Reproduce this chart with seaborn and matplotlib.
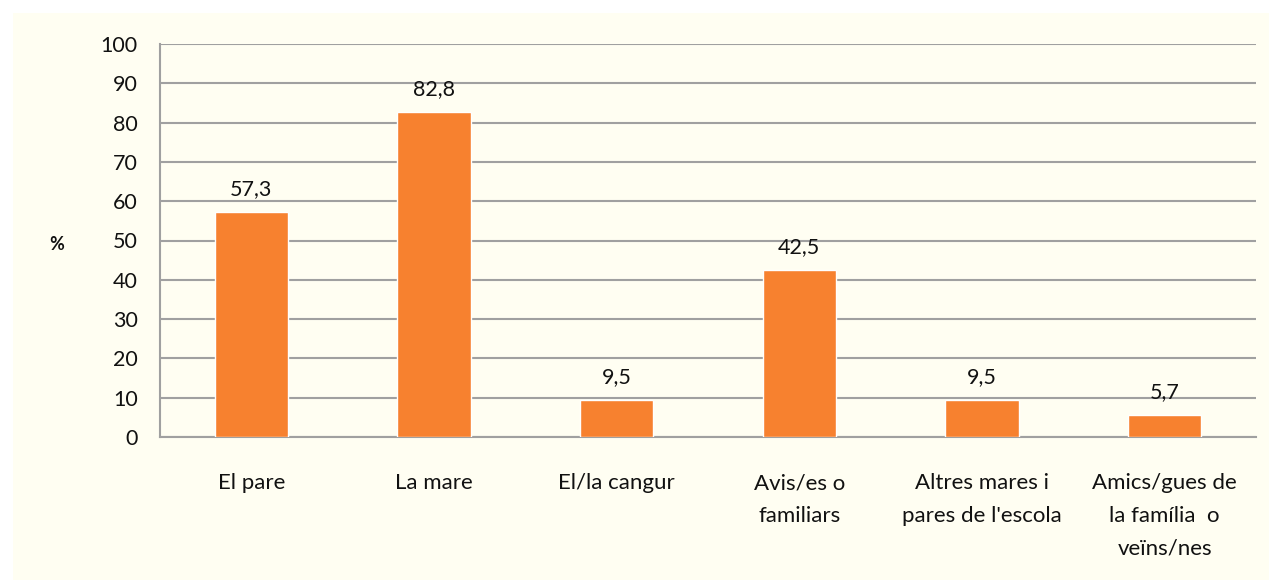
import matplotlib
matplotlib.use("Agg")
import matplotlib.pyplot as plt
import pandas as pd
import seaborn as sns
from matplotlib.patches import Rectangle

# Dades del gràfic
categories = [
    "El pare",
    "La mare",
    "El/la cangur",
    "Avis/es o\nfamiliars",
    "Altres mares i\npares de l'escola",
    "Amics/gues de\nla família  o\nveïns/nes",
]
values = [57.3, 82.8, 9.5, 42.5, 9.5, 5.7]
yticks = [0, 10, 20, 30, 40, 50, 60, 70, 80, 90, 100]

df = pd.DataFrame({"categoria": categories, "valor": values})

sns.set_style("white")
plt.rcParams["font.family"] = ["Lato", "DejaVu Sans"]

W, H = 1269, 580
fig = plt.figure(figsize=(W / 100, H / 100), dpi=100, facecolor="white")
# fons crema
fig.patches.append(Rectangle((13 / W, 0), 1 - 13 / W, 1 - 13 / H,
                             transform=fig.transFigure, facecolor="#FFFEF2",
                             edgecolor="none", zorder=-10))

ax = fig.add_axes([160 / W, 1 - 437 / H, (1256 - 160) / W, (437 - 44) / H])
ax.set_facecolor("none")

sns.barplot(data=df, x="categoria", y="valor", color="#F7812F", width=0.4,
            saturation=1, ax=ax, zorder=3)

ax.set_ylim(0, 100)
ax.set_xlim(-0.5, len(categories) - 0.5)
ax.set_yticks(yticks)
ax.set_yticklabels([str(t) for t in yticks], fontsize=15.5, color="#111111")
ax.set_xticks(range(len(categories)))
ax.set_xticklabels(categories, fontsize=16, color="#111111", linespacing=1.8,
                   va="top")
ax.set_xticks([i - 0.5 for i in range(len(categories) + 1)], minor=True)
ax.tick_params(axis="x", which="major", length=0, pad=26)
ax.tick_params(axis="x", which="minor", length=8, width=1.5, color="#A0A0A0")
ax.tick_params(axis="y", length=10, width=1.5, color="#A0A0A0", pad=6)

ax.yaxis.grid(True, color="#A0A0A0", linewidth=1.5, zorder=0)
ax.set_axisbelow(True)
for side in ["top", "right"]:
    ax.spines[side].set_visible(False)
for side in ["left", "bottom"]:
    ax.spines[side].set_color("#A0A0A0")
    ax.spines[side].set_linewidth(1.5)

ax.set_xlabel("")
ax.set_ylabel("")

# etiquetes de valor
for i, v in enumerate(values):
    ax.annotate(f"{v:.1f}".replace(".", ","), (i, v), xytext=(0, 9),
                textcoords="offset points", ha="center", va="bottom",
                fontsize=15.5, color="#111111")

fig.text(57 / W, 1 - 245 / H, "%", fontsize=13, fontweight="bold",
         ha="center", va="center", color="#111111")

fig.savefig("out.png", dpi=100, facecolor=fig.get_facecolor())
